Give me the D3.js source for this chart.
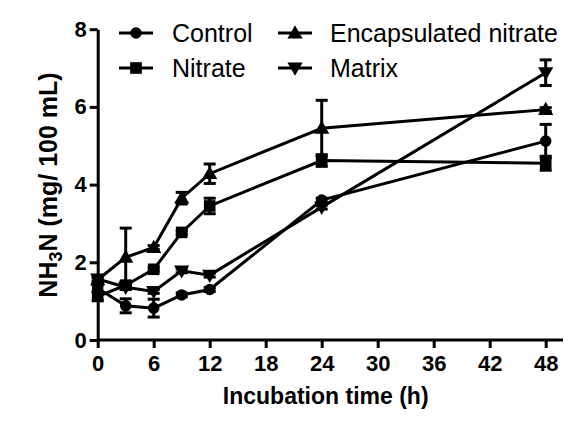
<!DOCTYPE html>
<html>
<head>
<meta charset="utf-8">
<script src="https://cdn.jsdelivr.net/npm/d3@7"></script>
<style>
  html, body { margin: 0; padding: 0; background: #fff; }
  svg { display: block; font-family: "Liberation Sans", Arial, sans-serif; }
</style>
</head>
<body>
<svg id="chart" width="586" height="430"></svg>
<script>
// ---- Data ----
const times = [0, 3, 6, 9, 12, 24, 48];
const control = [1.33, 0.88, 0.82, 1.16, 1.30, 3.60, 5.12];
const controlErr = [0.08, 0.18, 0.23, 0.05, 0.05, 0.05, 0.43];
const nitrate = [1.12, 1.41, 1.82, 2.77, 3.45, 4.62, 4.55];
const nitrateErr = [0.10, 0.10, 0.05, 0.05, 0.20, 0.15, 0.18];
const encapsulated = [1.55, 2.13, 2.38, 3.65, 4.28, 5.45, 5.93];
const encapsulatedErr = [0.05, 0.75, 0.05, 0.15, 0.25, 0.72, 0.05];
const matrix = [1.57, 1.36, 1.25, 1.78, 1.67, 3.42, 6.88];
const matrixErr = [0.05, 0.05, 0.05, 0.05, 0.05, 0.05, 0.33];

const seriesNames = ["Control", "Nitrate", "Encapsulated nitrate", "Matrix"];
const xTicks = [0, 6, 12, 18, 24, 30, 36, 42, 48];
const yTicks = [0, 2, 4, 6, 8];
const xTitle = "Incubation time (h)";

const series = [
  { name: seriesNames[0], values: control, err: controlErr, symbol: d3.symbolCircle, size: 105, rot: 0 },
  { name: seriesNames[1], values: nitrate, err: nitrateErr, symbol: d3.symbolSquare, size: 135, rot: 0 },
  { name: seriesNames[2], values: encapsulated, err: encapsulatedErr, symbol: d3.symbolTriangle, size: 100, rot: 0 },
  { name: seriesNames[3], values: matrix, err: matrixErr, symbol: d3.symbolTriangle, size: 100, rot: 180 }
];

// ---- Layout ----
const svg = d3.select("#chart");
const x0 = 97.7, x48 = 545.7, xEnd = 563;
const yBottom = 340, yTop = 29.2;

const x = d3.scaleLinear().domain([0, 48]).range([x0, x48]);
const y = d3.scaleLinear().domain([0, 8]).range([yBottom, yTop]);

// ---- Axes ----
const xAxis = svg.append("g")
  .attr("transform", `translate(0,${yBottom})`)
  .call(d3.axisBottom(x).tickValues(xTicks).tickSize(8).tickSizeOuter(0).tickPadding(6));
xAxis.select(".domain").attr("d", `M${x0},0H${xEnd}`);

const yAxis = svg.append("g")
  .attr("transform", `translate(${x0},0)`)
  .call(d3.axisLeft(y).tickValues(yTicks).tickSize(8).tickSizeOuter(0).tickPadding(3));

[xAxis, yAxis].forEach(g => {
  g.select(".domain").attr("stroke", "#000").attr("stroke-width", 3);
  g.selectAll(".tick line").attr("stroke", "#000").attr("stroke-width", 3);
  g.selectAll(".tick text")
    .attr("fill", "#000")
    .style("font-family", "'Liberation Sans', Arial, sans-serif")
    .style("font-weight", "bold")
    .style("font-size", "22px");
});
xAxis.selectAll(".tick text").attr("dy", "0.78em");

// Axis titles
svg.append("text")
  .attr("x", (x0 + x48) / 2 + 4)
  .attr("y", 404)
  .attr("text-anchor", "middle")
  .style("font-weight", "bold")
  .style("font-size", "23px")
  .text(xTitle);

const yt = svg.append("text")
  .attr("transform", "translate(57,185) rotate(-90)")
  .attr("text-anchor", "middle")
  .style("font-weight", "bold")
  .style("font-size", "25px");
yt.append("tspan").text("NH");
yt.append("tspan").attr("dy", 5).style("font-size", "18px").text("3");
yt.append("tspan").attr("dy", -5).text("N (mg/ 100 mL)");

// ---- Series ----
const line = d3.line().x((d, i) => x(times[i])).y(d => y(d));
const capW = 6;

series.forEach(s => {
  const g = svg.append("g");
  // error bars
  s.values.forEach((v, i) => {
    const cx = x(times[i]);
    const hi = y(v + s.err[i]), lo = y(v - s.err[i]);
    g.append("line").attr("x1", cx).attr("x2", cx).attr("y1", hi).attr("y2", lo)
      .attr("stroke", "#000").attr("stroke-width", 3);
    [hi, lo].forEach(yy => {
      g.append("line").attr("x1", cx - capW).attr("x2", cx + capW).attr("y1", yy).attr("y2", yy)
        .attr("stroke", "#000").attr("stroke-width", 3);
    });
  });
  g.append("path").datum(s.values)
    .attr("d", line)
    .attr("fill", "none").attr("stroke", "#000").attr("stroke-width", 3);
  g.selectAll("path.mk").data(s.values).enter().append("path")
    .attr("class", "mk")
    .attr("d", d3.symbol().type(s.symbol).size(s.size))
    .attr("transform", (d, i) => `translate(${x(times[i])},${y(d) + (s.rot ? -1 : (s.symbol === d3.symbolTriangle ? 1 : 0))}) rotate(${s.rot})`)
    .attr("fill", "#000");
});

// ---- Legend ----
const legendPos = [
  { lx: 119, tx: 172, y: 33 },
  { lx: 119, tx: 172, y: 68 },
  { lx: 278, tx: 330, y: 33 },
  { lx: 278, tx: 330, y: 68 }
];
series.forEach((s, k) => {
  const p = legendPos[k];
  const g = svg.append("g");
  g.append("line").attr("x1", p.lx).attr("x2", p.lx + 34).attr("y1", p.y).attr("y2", p.y)
    .attr("stroke", "#000").attr("stroke-width", 3);
  g.append("path")
    .attr("d", d3.symbol().type(s.symbol).size(s.size))
    .attr("transform", `translate(${p.lx + 17},${p.y + (s.rot ? -1 : (s.symbol === d3.symbolTriangle ? 1 : 0))}) rotate(${s.rot})`)
    .attr("fill", "#000");
  g.append("text")
    .attr("x", p.tx).attr("y", p.y + 8.5)
    .style("font-size", "25px")
    .text(s.name);
});
</script>
</body>
</html>
